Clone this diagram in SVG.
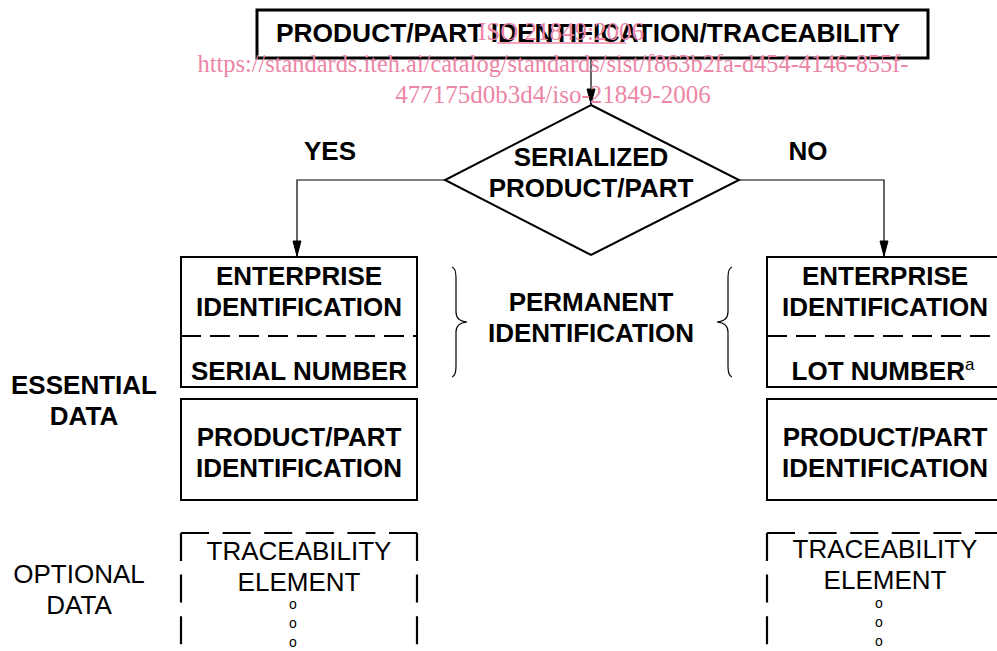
<svg xmlns="http://www.w3.org/2000/svg" width="997" height="651" viewBox="0 0 997 651">
<defs>
<style>
.b{font-family:"Liberation Sans",Arial,sans-serif;font-weight:bold;font-size:26px;text-anchor:middle;fill:#000}
.r{font-family:"Liberation Sans",Arial,sans-serif;font-size:26px;text-anchor:middle;fill:#000}
.o{font-family:"Liberation Sans",Arial,sans-serif;font-size:14px;text-anchor:middle;fill:#000}
.box{fill:#fff;stroke:#000;stroke-width:2}
.dash{fill:none;stroke:#000;stroke-width:2;stroke-dasharray:20 9}
.dbox{fill:none;stroke:#000;stroke-width:2.2;stroke-dasharray:28 13.6}
.con{fill:none;stroke:#000;stroke-width:1.2}
.wm{font-family:"Liberation Serif","Times New Roman",serif;font-size:25px;fill:#ec86a6;text-anchor:middle}
</style>
<marker id="ar" viewBox="0 0 17 10" refX="17" refY="5" markerWidth="17" markerHeight="10" markerUnits="userSpaceOnUse" orient="auto">
<path d="M1,1 L16,5 L1,9 Z" fill="#000" stroke="#000" stroke-width="1"/>
</marker>
</defs>
<rect width="997" height="651" fill="#fff"/>

<g id="connectors">
<line class="con" x1="591" y1="58" x2="591" y2="105" marker-end="url(#ar)"/>
<polyline class="con" points="445,180 297,180 297,257" marker-end="url(#ar)"/>
<polyline class="con" points="739,180 884,180 884,257" marker-end="url(#ar)"/>
</g>

<g id="title">
<rect x="257" y="10" width="671" height="48" fill="#fff" stroke="#000" stroke-width="3"/>
<text class="b" x="588" y="42" textLength="624" lengthAdjust="spacingAndGlyphs">PRODUCT/PART IDENTIFICATION/TRACEABILITY</text>
</g>

<g id="decision">
<polygon class="box" points="591,105 739,180 591,255 445,180"/>
<text class="b" x="591" y="166">SERIALIZED</text>
<text class="b" x="591" y="197">PRODUCT/PART</text>
</g>

<g id="yes-label"><text class="b" x="330" y="160">YES</text></g>
<g id="no-label"><text class="b" x="808" y="160">NO</text></g>

<g id="left-permanent">
<rect class="box" x="181" y="257" width="236" height="130"/>
<line class="dash" x1="181" y1="336" x2="417" y2="336"/>
<text class="b" x="299" y="285">ENTERPRISE</text>
<text class="b" x="299" y="316">IDENTIFICATION</text>
<text class="b" x="299" y="380">SERIAL NUMBER</text>
</g>

<g id="left-product">
<rect class="box" x="181" y="399" width="236" height="101"/>
<text class="b" x="299" y="446">PRODUCT/PART</text>
<text class="b" x="299" y="477">IDENTIFICATION</text>
</g>

<g id="left-optional">
<path class="dbox" d="M181,533 L417,533 M181,533 L181,651 M417,533 L417,651"/>
<text class="r" x="299" y="560">TRACEABILITY</text>
<text class="r" x="299" y="591">ELEMENT</text>
<text class="o" x="293" y="609">o</text>
<text class="o" x="293" y="628">o</text>
<text class="o" x="293" y="647">o</text>
</g>

<g id="right-permanent">
<rect class="box" x="767" y="257" width="240" height="130"/>
<line class="dash" x1="767" y1="336" x2="997" y2="336"/>
<text class="b" x="885" y="285">ENTERPRISE</text>
<text class="b" x="885" y="316">IDENTIFICATION</text>
<text class="b" x="883" y="380">LOT NUMBER<tspan font-weight="normal" font-size="17" dy="-10">a</tspan></text>
</g>

<g id="right-product">
<rect class="box" x="767" y="399" width="240" height="101"/>
<text class="b" x="885" y="446">PRODUCT/PART</text>
<text class="b" x="885" y="477">IDENTIFICATION</text>
</g>

<g id="right-optional">
<path class="dbox" d="M767,533 L997,533 M767,533 L767,651"/>
<text class="r" x="885" y="558">TRACEABILITY</text>
<text class="r" x="885" y="589">ELEMENT</text>
<text class="o" x="879" y="608">o</text>
<text class="o" x="879" y="627">o</text>
<text class="o" x="879" y="646">o</text>
</g>

<g id="permanent-identification">
<path class="con" d="M452,267 Q456,268 456,278 L456,312 Q456,321 467,322 Q456,323 456,332 L456,366 Q456,376 452,377"/>
<path class="con" d="M732,267 Q728,268 728,278 L728,312 Q728,321 717,322 Q728,323 728,332 L728,366 Q728,376 732,377"/>
<text class="b" x="591" y="311">PERMANENT</text>
<text class="b" x="591" y="342">IDENTIFICATION</text>
</g>

<g id="essential-data">
<text class="b" x="84" y="394">ESSENTIAL</text>
<text class="b" x="84" y="425">DATA</text>
</g>

<g id="optional-data">
<text class="r" x="79" y="583">OPTIONAL</text>
<text class="r" x="79" y="614">DATA</text>
</g>

<g id="watermark">
<text class="wm" x="561" y="40">ISO 21849:2006</text>
<line x1="497" y1="43" x2="626" y2="43" stroke="#ec86a6" stroke-width="1.5"/>
<text class="wm" x="553" y="72" textLength="711" lengthAdjust="spacingAndGlyphs">https://standards.iteh.ai/catalog/standards/sist/f863b2fa-d454-4146-855f-</text>
<text class="wm" x="553" y="103">477175d0b3d4/iso-21849-2006</text>
</g>
</svg>
